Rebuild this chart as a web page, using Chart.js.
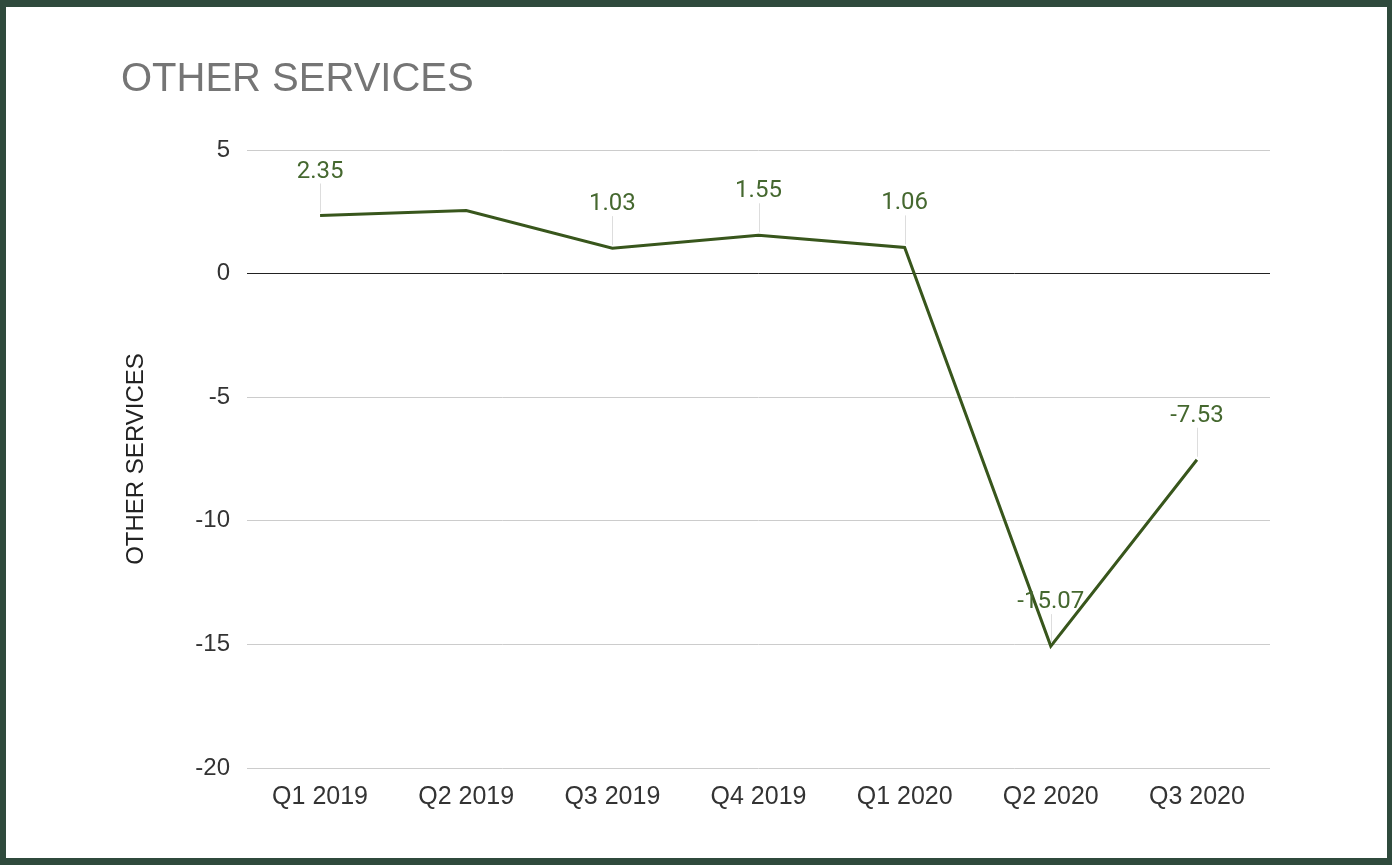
<!DOCTYPE html>
<html>
<head>
<meta charset="utf-8">
<script src="https://cdn.jsdelivr.net/npm/chart.js@4/dist/chart.umd.min.js"></script>
<style>
  html, body { margin: 0; padding: 0; background: #fff; }
  #frame {
    width: 1392px; height: 865px; box-sizing: border-box;
    border-style: solid; border-color: #2f4a3c;
    border-width: 7px 5px 7px 6px;
  }
  #chartBox { position: relative; width: 1381px; height: 851px; }
</style>
</head>
<body>
<div id="frame">
  <div id="chartBox"><canvas id="lineChart"></canvas></div>
</div>
<script>
// quarters on the x axis
var quarters = ['Q1 2019', 'Q2 2019', 'Q3 2019', 'Q4 2019', 'Q1 2020', 'Q2 2020', 'Q3 2020'];
// other services values per quarter
var otherServices = [2.35, 2.55, 1.03, 1.55, 1.06, -15.07, -7.53];
// which points show a label (Q2 2019 has none in the picture)
var pointLabels = ['2.35', null, '1.03', '1.55', '1.06', '-15.07', '-7.53'];
// y axis ticks
var yMin = -20, yMax = 5, yStep = 5;

var labelFont = '24px Roboto';
var axisFont = '"Liberation Sans", Arial, sans-serif';

// small plugin to draw value labels with a thin leader line above each point
var valueLabels = {
  id: 'valueLabels',
  afterDatasetsDraw: function (chart) {
    var ctx = chart.ctx;
    var meta = chart.getDatasetMeta(0);
    ctx.save();
    meta.data.forEach(function (pt, i) {
      var txt = pointLabels[i];
      if (!txt) return;
      var labelY = pt.y - 44;
      ctx.strokeStyle = '#dddddd';
      ctx.lineWidth = 1;
      ctx.beginPath();
      ctx.moveTo(Math.round(pt.x) + 0.5, pt.y - 3);
      ctx.lineTo(Math.round(pt.x) + 0.5, labelY + 12);
      ctx.stroke();
      ctx.fillStyle = '#45682f';
      ctx.font = labelFont;
      ctx.textAlign = 'center';
      ctx.textBaseline = 'middle';
      ctx.fillText(txt, pt.x, labelY);
    });
    ctx.restore();
  }
};

var ctx = document.getElementById('lineChart').getContext('2d');
var lineChart = new Chart(ctx, {
  type: 'line',
  data: {
    labels: quarters,
    datasets: [{
      label: 'OTHER SERVICES',
      data: otherServices,
      borderColor: '#38561c',
      borderWidth: 3,
      pointRadius: 0,
      tension: 0,
      fill: false
    }]
  },
  plugins: [valueLabels],
  options: {
    responsive: true,
    maintainAspectRatio: false,
    animation: false,
    layout: { padding: { left: 115, right: 117, top: 0, bottom: 40 } },
    plugins: {
      legend: { display: false },
      tooltip: { enabled: false },
      title: {
        display: true,
        text: 'OTHER SERVICES',
        align: 'start',
        color: '#757575',
        font: { family: axisFont, size: 40, weight: 'normal' },
        padding: { top: 49, bottom: 46 }
      }
    },
    scales: {
      x: {
        offset: true,
        grid: { display: false },
        border: { display: false },
        ticks: {
          color: '#333',
          padding: 6,
          maxRotation: 0,
          font: { family: axisFont, size: 25 }
        },
        afterFit: function (scale) { scale.height = 50; }
      },
      y: {
        min: yMin,
        max: yMax,
        border: { display: false },
        grid: {
          drawTicks: false,
          color: function (c) { return c.tick && c.tick.value === 0 ? '#222' : '#cccccc'; }
        },
        ticks: {
          stepSize: yStep,
          color: '#333',
          padding: 17,
          font: { family: axisFont, size: 24 }
        },
        title: {
          display: true,
          text: 'OTHER SERVICES',
          color: '#222',
          padding: { top: 1, bottom: 0 },
          font: { family: axisFont, size: 24 }
        },
        afterFit: function (scale) { scale.width = 126; }
      }
    }
  }
});
</script>
</body>
</html>
